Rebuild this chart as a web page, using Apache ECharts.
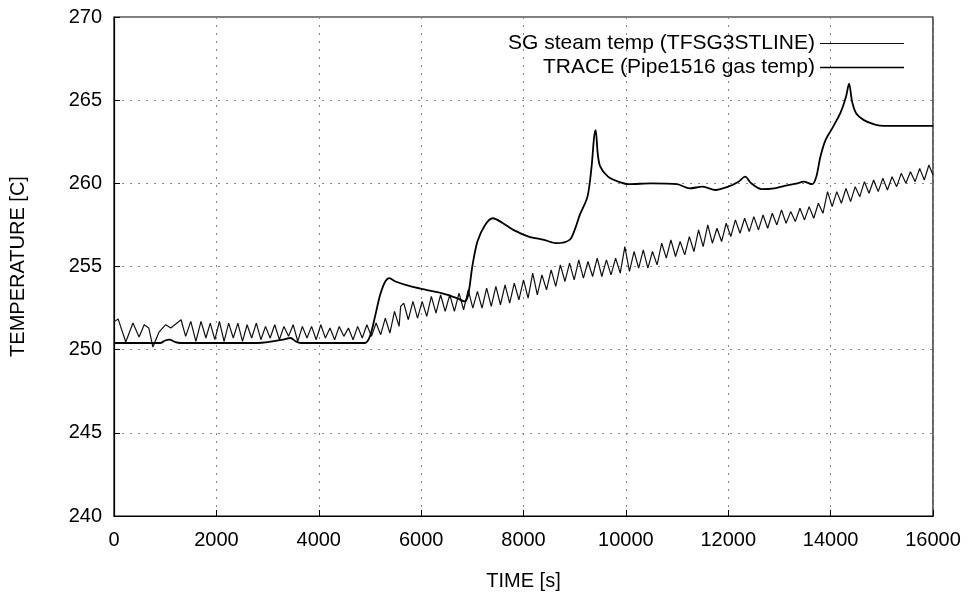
<!DOCTYPE html>
<html>
<head>
<meta charset="utf-8">
<script src="https://cdn.jsdelivr.net/npm/echarts@6/dist/echarts.min.js"></script>
<style>html,body{margin:0;padding:0;background:#fff}#c{width:973px;height:600px}</style>
</head>
<body>
<div id="c"></div>
<script>
var seriesNames = ['SG steam temp (TFSG3STLINE)', 'TRACE (Pipe1516 gas temp)'];
var xTicks = [0, 2000, 4000, 6000, 8000, 10000, 12000, 14000, 16000];
var yTicks = [240, 245, 250, 255, 260, 265, 270];

var sgTime = [0,80,230,370,490,590,680,760,880,1010,1110,1310,1400,1500,1600,1700,1795,
1880,1970,2060,2150,2240,2330,2420,2510,2600,2690,2780,2870,2960,3050,3140,3230,3320,3410,3500,3590,
3680,3770,3860,3950,4040,4130,4220,4310,4400,4490,4580,4670,4760,4850,4940,5030,5120,5210,5300,5390,
5480,5570,5600,5660,5750,5840,5930,6020,6110,6200,6290,6380,6470,6560,6650,6740,6830,6920,7010,7100,
7190,7280,7370,7460,7550,7640,7730,7820,7910,8000,8090,8180,8270,8360,8450,8540,8630,8720,8810,8900,
8990,9080,9170,9260,9350,9440,9530,9620,9710,9800,9890,9980,10070,10160,10250,10340,10430,10520,10610,
10700,10790,10880,10970,11060,11150,11240,11330,11420,11510,11600,11690,11780,11870,11960,12050,12140,
12230,12320,12410,12500,12590,12680,12770,12860,12950,13040,13130,13220,13310,13400,13490,13580,13670,
13760,13850,13940,14030,14120,14210,14300,14390,14480,14570,14660,14750,14840,14930,15020,15110,15200,
15290,15380,15470,15560,15650,15740,15830,15920,16000];
var sgTemp = [251.67,251.85,250.46,251.6,250.76,251.5,251.3,250.16,251.06,251.5,251.3,251.8,250.8,251.7,250.5,251.7,250.7,
251.6,250.6,251.7,250.5,251.6,250.7,251.6,250.5,251.5,250.7,251.6,250.6,251.4,250.7,251.5,250.6,251.4,250.8,251.5,250.5,
251.4,250.7,251.4,250.6,251.5,250.7,251.3,250.6,251.4,250.8,251.3,250.6,251.4,250.7,251.5,250.8,251.6,250.9,251.9,251.0,
252.3,251.4,252.6,252.8,251.8,252.9,251.9,252.9,252.0,253.2,252.2,253.3,252.3,253.3,252.3,253.4,252.4,253.6,252.5,253.5,
252.5,253.7,252.6,253.8,252.7,253.9,252.8,254.0,253.0,254.2,253.1,254.6,253.3,254.5,253.6,254.8,253.8,255.1,254.1,255.2,
254.2,255.4,254.3,255.3,254.4,255.5,254.4,255.4,254.5,255.5,254.6,256.2,254.7,255.9,254.9,256.0,254.9,255.9,255.1,
256.4,255.5,256.6,255.6,256.5,255.7,256.8,255.9,257.2,256.2,257.5,256.4,257.3,256.5,257.6,256.8,257.8,
257.0,257.9,257.1,258.0,257.2,258.1,257.3,258.2,257.5,258.4,257.6,258.3,257.7,258.5,257.8,258.6,257.9,
258.8,258.2,259.5,258.6,259.5,258.8,259.7,258.9,259.8,259.2,260.1,259.4,260.2,259.5,260.3,259.6,260.4,
259.8,260.6,260.0,260.7,260.1,260.9,260.2,261.1,260.5];

var traceTime = [0,900,1000,1080,1200,1300,2800,3000,3300,3450,3550,3650,4900,5000,5100,5200,5300,5380,5500,5800,6100,6400,6700,6850,6920,7000,7100,7250,7400,7600,7800,8100,8400,8650,8900,9000,9100,9250,9330,9380,9410,9450,9500,9650,9850,10050,10500,11000,11250,11500,11750,12000,12200,12330,12450,12650,12900,13100,13350,13470,13640,13720,13800,13900,14030,14200,14300,14360,14420,14500,14650,14850,15050,16000];
var traceTemp = [250.4,250.4,250.55,250.6,250.45,250.4,250.4,250.45,250.6,250.7,250.5,250.4,250.4,250.8,252.0,253.3,254.1,254.3,254.1,253.8,253.6,253.4,253.1,252.9,253.3,255.0,256.5,257.5,257.9,257.6,257.2,256.8,256.6,256.4,256.6,257.2,258.1,259.2,261.0,262.8,263.2,261.8,261.0,260.4,260.1,259.95,260.0,259.95,259.7,259.8,259.6,259.8,260.1,260.4,260.0,259.65,259.7,259.85,260.0,260.1,259.95,260.4,261.6,262.6,263.3,264.3,265.2,266.0,264.9,264.2,263.8,263.55,263.45,263.45];

function pairs(t, v) { var out = []; for (var i = 0; i < t.length; i++) out.push([t[i], v[i]]); return out; }

var chart = echarts.init(document.getElementById('c'), null, {renderer: 'canvas'});
var font = 'Liberation Sans, Arial, sans-serif';
chart.setOption({
  animation: false,
  backgroundColor: '#ffffff',
  grid: {left: 113, right: 40, top: 17, bottom: 84, show: true, borderColor: '#000', borderWidth: 1.2, backgroundColor: 'transparent'},
  legend: {
    orient: 'vertical', right: 64, top: 28, align: 'right', itemGap: 3,
    itemWidth: 84, itemHeight: 22,
    textStyle: {fontFamily: font, fontSize: 21, color: '#000'},
    data: [
      {name: seriesNames[0], icon: 'path://M0,10.5L84,10.5L84,11.5L0,11.5Z'},
      {name: seriesNames[1], icon: 'path://M0,10.2L84,10.2L84,11.8L0,11.8Z'}
    ]
  },
  xAxis: {
    type: 'value', min: xTicks[0], max: xTicks[xTicks.length - 1], interval: 2000,
    name: 'TIME [s]', nameLocation: 'middle', nameGap: 55,
    nameTextStyle: {fontFamily: font, fontSize: 20, color: '#000'},
    axisLine: {show: true, lineStyle: {color: '#000', width: 1.2}},
    axisTick: {show: true, inside: true, length: 6, lineStyle: {color: '#000'}},
    axisLabel: {fontFamily: font, fontSize: 20, color: '#000', margin: 14, formatter: function (v) { return String(v); }},
    splitLine: {show: true, lineStyle: {color: '#888', type: [2, 6], width: 1}}
  },
  yAxis: {
    type: 'value', min: yTicks[0], max: yTicks[yTicks.length - 1], interval: 5,
    name: 'TEMPERATURE [C]', nameLocation: 'middle', nameGap: 86, nameRotate: 90,
    nameTextStyle: {fontFamily: font, fontSize: 20, color: '#000'},
    axisLine: {show: true, lineStyle: {color: '#000', width: 1.2}},
    axisTick: {show: true, inside: true, length: 6, lineStyle: {color: '#000'}},
    axisLabel: {fontFamily: font, fontSize: 20, color: '#000', margin: 12},
    splitLine: {show: true, lineStyle: {color: '#888', type: [2, 6], width: 1}}
  },
  series: [
    {name: seriesNames[0], type: 'line', data: pairs(sgTime, sgTemp), showSymbol: false, symbol: 'none',
     lineStyle: {color: '#111', width: 1.2}, itemStyle: {color: '#111'}, z: 2},
    {name: seriesNames[1], type: 'line', data: pairs(traceTime, traceTemp), showSymbol: false, symbol: 'none', smooth: 0.3,
     lineStyle: {color: '#000', width: 1.8}, itemStyle: {color: '#000'}, z: 3}
  ]
});
</script>
</body>
</html>
